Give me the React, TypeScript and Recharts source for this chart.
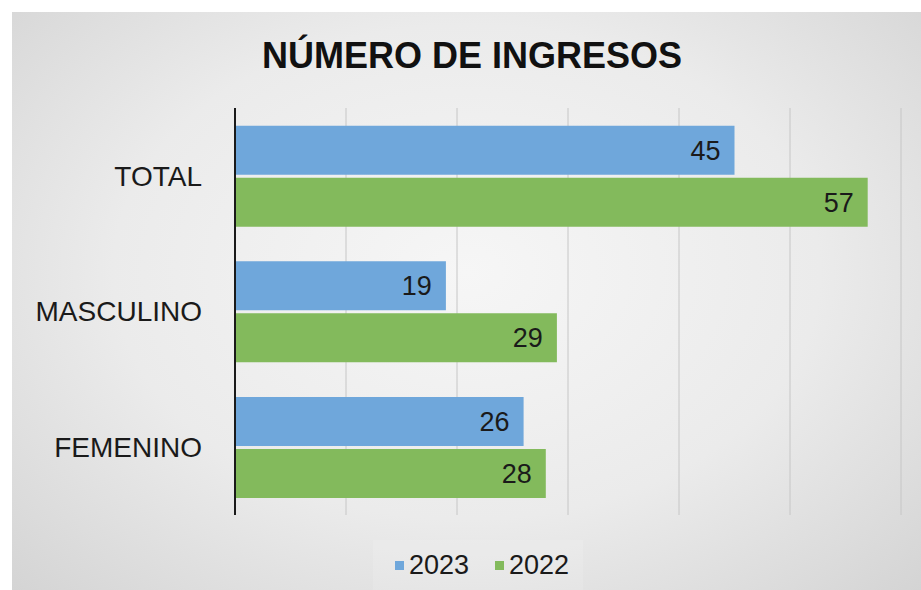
import { BarChart, Bar, XAxis, YAxis, CartesianGrid, Legend, LabelList } from "recharts";

const categories = ["TOTAL", "MASCULINO", "FEMENINO"];
const values2023 = [45, 19, 26];
const values2022 = [57, 29, 28];
const xTicks = [0, 10, 20, 30, 40, 50, 60];

const data = categories.map((name, i) => ({ name, y2023: values2023[i], y2022: values2022[i] }));

const BLUE = "#6fa7db";
const GREEN = "#83ba5c";
const FONT = "'Liberation Sans', Arial, sans-serif";

function LegendBox() {
    const items = [
        { label: "2023", color: BLUE },
        { label: "2022", color: GREEN },
    ];
    return (
        <div style={{ display: "flex", justifyContent: "center" }}>
            <div
                style={{
                    display: "flex",
                    alignItems: "center",
                    gap: 26,
                    height: 50,
                    padding: "0 14px 0 22px",
                    background: "rgba(255,255,255,0.12)",
                    fontFamily: FONT,
                    fontSize: 27,
                    color: "#1a1a1a",
                }}
            >
                {items.map((it) => (
                    <div key={it.label} style={{ display: "flex", alignItems: "center", gap: 5 }}>
                        <span style={{ width: 9, height: 9, background: it.color, display: "inline-block" }} />
                        <span>{it.label}</span>
                    </div>
                ))}
            </div>
        </div>
    );
}

export default function App() {
    return (
        <div style={{ position: "absolute", left: 0, top: 0, width: 921, height: 590, background: "#fff", overflow: "hidden" }}>
            <div
                style={{
                    position: "absolute",
                    left: 12,
                    top: 12,
                    width: 909,
                    height: 578,
                    background: "radial-gradient(ellipse at 50% 45%, #f6f6f6 0%, #ebebeb 55%, #d4d4d4 100%)",
                }}
            />
            <div
                style={{
                    position: "absolute",
                    left: 0,
                    top: 35,
                    width: 944,
                    textAlign: "center",
                    fontFamily: FONT,
                    fontWeight: "bold",
                    fontSize: 36,
                    color: "#111",
                }}
            >
                NÚMERO DE INGRESOS
            </div>
            <div style={{ position: "absolute", left: 0, top: 0 }}>
                <BarChart
                    width={921}
                    height={590}
                    data={data}
                    layout="vertical"
                    margin={{ top: 108, right: 20, bottom: 25, left: 0 }}
                    barCategoryGap="13%"
                    barGap={3}
                >
                    <CartesianGrid horizontal={false} stroke="#c6c6c6" strokeWidth={1} />
                    <XAxis
                        type="number"
                        domain={[0, 60]}
                        ticks={xTicks}
                        height={0}
                        tick={{ fill: "transparent", fontSize: 1 }}
                        axisLine={false}
                        tickLine={false}
                    />
                    <YAxis
                        type="category"
                        dataKey="name"
                        width={235}
                        tickSize={0}
                        tickMargin={33}
                        tickLine={false}
                        axisLine={{ stroke: "#1a1a1a", strokeWidth: 2 }}
                        tick={{ fill: "#1a1a1a", fontSize: 28, fontFamily: FONT }}
                    />
                    <Legend
                        verticalAlign="bottom"
                        content={() => <LegendBox />}
                        wrapperStyle={{ left: 0, width: 956, bottom: 0, height: 50 }}
                    />
                    <Bar dataKey="y2023" name="2023" fill={BLUE} isAnimationActive={false}>
                        <LabelList
                            dataKey="y2023"
                            position="insideRight"
                            offset={14}
                            fill="#1a1a1a"
                            style={{ fontSize: 27, fontFamily: FONT }}
                        />
                    </Bar>
                    <Bar dataKey="y2022" name="2022" fill={GREEN} isAnimationActive={false}>
                        <LabelList
                            dataKey="y2022"
                            position="insideRight"
                            offset={14}
                            fill="#1a1a1a"
                            style={{ fontSize: 27, fontFamily: FONT }}
                        />
                    </Bar>
                </BarChart>
            </div>
        </div>
    );
}
